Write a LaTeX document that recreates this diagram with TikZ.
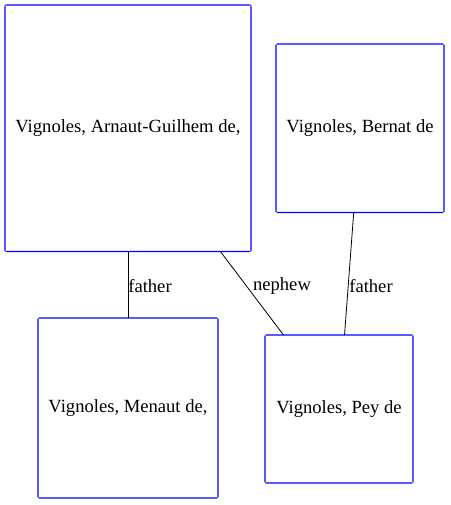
\documentclass[tikz,border=0pt]{standalone}
\usepackage{fontspec}
\setmainfont{Liberation Serif}
\definecolor{boxblue}{RGB}{0,0,255}
\begin{document}
\begin{tikzpicture}[x=1pt,y=-1pt,
  person/.style={text=black, inner sep=0pt, outer sep=0pt, font=\fontsize{18.6}{21}\selectfont},
  frame/.style={fill=boxblue, even odd rule},
  rel/.style={draw=black, line width=0.8pt},
  lbl/.style={text=black, font=\fontsize{18.6}{21}\selectfont, inner sep=0pt}]
\useasboundingbox (0,0) rectangle (450,505);
\node[person, minimum width=246pt, minimum height=246.5pt] (arnaut) at (128,128.25) {Vignoles, Arnaut-Guilhem de,};
\node[person, minimum width=168pt, minimum height=168.5pt] (bernat) at (360,128.25) {Vignoles, Bernat de};
\node[person, minimum width=180pt, minimum height=180pt] (menaut) at (128,408) {Vignoles, Menaut de,};
\node[person, minimum width=148pt, minimum height=148pt] (pey) at (339,409) {Vignoles, Pey de};
\foreach \n in {arnaut,bernat,menaut,pey}{
  \path[frame] ([shift={(-0.6pt,0.6pt)}]\n.south west) rectangle ([shift={(0.6pt,-0.6pt)}]\n.north east)
    ([shift={(0.6pt,-0.6pt)}]\n.south west) rectangle ([shift={(-0.6pt,0.6pt)}]\n.north east);
}
\draw[rel] (arnaut) -- (menaut);
\draw[rel] (arnaut) -- (pey);
\draw[rel] (bernat) -- (pey);
\node[lbl] (l1) at (150,286) {father};
\node[lbl] (l2) at (282,286) {nephew};
\node[lbl] (l3) at (371,286) {father};
\end{tikzpicture}
\end{document}
